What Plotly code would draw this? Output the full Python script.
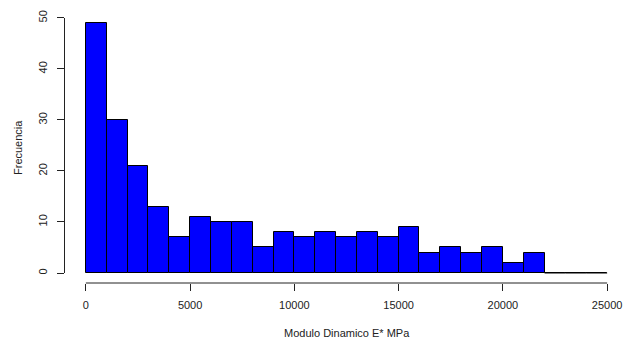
import plotly.graph_objects as go

# Histogram bins (width 1000) and counts
bin_edges = list(range(0, 26000, 1000))  # 0..25000
counts = [49, 30, 21, 13, 7, 11, 10, 10, 5, 8, 7, 8, 7, 8, 7, 9, 4, 5, 4, 5, 2, 4, 0, 0, 0]
x_ticks = [0, 5000, 10000, 15000, 20000, 25000]
y_ticks = [0, 10, 20, 30, 40, 50]
x_title = "Modulo Dinamico E* MPa"
y_title = "Frecuencia"

centers = [(bin_edges[i] + bin_edges[i + 1]) / 2 for i in range(len(counts))]
widths = [bin_edges[i + 1] - bin_edges[i] for i in range(len(counts))]

FONT = "Liberation Sans, Arial, sans-serif"
TXT = "#222222"
AXC = "#222222"

W, H = 631, 341
ML, MR, MT, MB = 65, 3, 13, 58
PW = W - ML - MR

xmin, xmax = min(x_ticks), max(x_ticks)
ymax_data = max(counts)
xpad = 0.04 * (xmax - xmin)
ypad = 0.04 * ymax_data
x_range = [xmin - xpad, xmax + xpad]
y_range = [0 - ypad, ymax_data + ypad]


def xfrac(v):
    return (v - x_range[0]) / (x_range[1] - x_range[0])


def yfrac(v):
    return (v - y_range[0]) / (y_range[1] - y_range[0])


fig = go.Figure()
fig.add_trace(go.Bar(
    x=centers, y=counts, width=widths,
    marker=dict(color="#0000FF", line=dict(color="#000000", width=1)),
    showlegend=False, hoverinfo="x+y",
))

# zero-count bins are drawn as flat baseline in R
zero_x = []
for i, c in enumerate(counts):
    if c == 0:
        zero_x += [bin_edges[i], bin_edges[i + 1], None]
fig.add_trace(go.Scatter(
    x=zero_x, y=[0 if v is not None else None for v in zero_x],
    mode="lines", line=dict(color="#000000", width=1),
    showlegend=False, hoverinfo="skip",
))

# helper axis whose line spans only first to last y tick (R style)
fig.add_trace(go.Scatter(
    x=[None], y=[None], xaxis="x", yaxis="y2", mode="lines",
    showlegend=False, hoverinfo="skip",
))

fig.update_layout(
    width=W, height=H,
    margin=dict(l=ML, r=MR, t=MT, b=MB, autoexpand=False),
    paper_bgcolor="white", plot_bgcolor="rgba(0,0,0,0)",
    bargap=0,
    font=dict(family=FONT, size=11, color=TXT),
    xaxis=dict(
        range=x_range, automargin=False,
        tickmode="array", tickvals=x_ticks, ticktext=[str(v) for v in x_ticks],
        ticks="outside", ticklen=7, tickwidth=1, tickcolor=AXC,
        showline=False, showgrid=False, zeroline=False,
        tickfont=dict(family=FONT, size=11, color=TXT),
        ticklabelstandoff=5,
    ),
    yaxis=dict(
        range=y_range, automargin=False,
        tickmode="array", tickvals=y_ticks, ticktext=[str(v) for v in y_ticks],
        ticks="outside", ticklen=7, tickwidth=1, tickcolor=AXC,
        tickangle=-90,
        showline=False,
        showgrid=False, zeroline=False,
        tickfont=dict(family=FONT, size=11, color=TXT),
        ticklabelstandoff=6,
    ),
    yaxis2=dict(
        domain=[yfrac(min(y_ticks)), yfrac(max(y_ticks))],
        range=[min(y_ticks), max(y_ticks)], anchor="x", automargin=False,
        showline=True, linecolor=AXC, linewidth=1,
        ticks="", showticklabels=False, showgrid=False, zeroline=False,
        fixedrange=True,
    ),
    shapes=[
        # R-style x axis line spanning first to last tick
        dict(type="line", xref="paper", yref="paper",
             x0=xfrac(xmin), x1=xfrac(xmax), y0=0, y1=0,
             line=dict(color=AXC, width=1), layer="above"),
    ],
    annotations=[
        dict(text=x_title, xref="paper", yref="paper", x=0.5, y=-50 / 270,
             xanchor="center", yanchor="middle", showarrow=False,
             font=dict(family=FONT, size=11, color=TXT)),
        dict(text=y_title, xref="paper", yref="paper", x=-47 / PW, y=0.5,
             xanchor="center", yanchor="middle", showarrow=False, textangle=-90,
             font=dict(family=FONT, size=11, color=TXT)),
    ],
)

fig.write_html("out.html", config={"displayModeBar": False},
               post_script="document.body.style.margin='0';document.body.style.padding='0';")
